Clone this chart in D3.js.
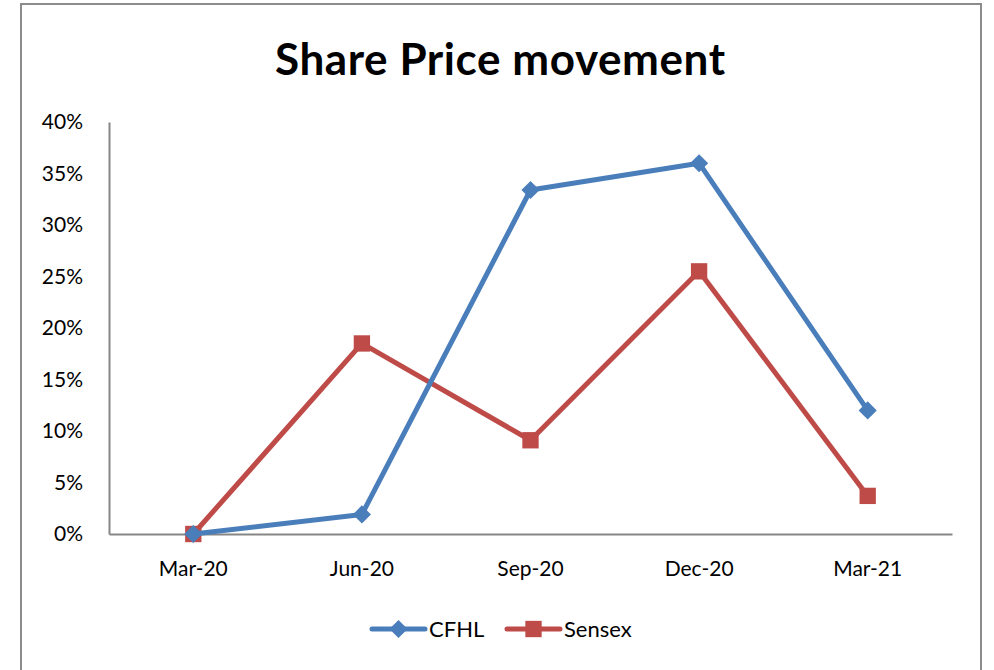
<!DOCTYPE html>
<html>
<head>
<style>
  body { margin: 0; background: #fff; }
  text { font-family: Lato, "Open Sans", sans-serif; }
</style>
</head>
<body>
<svg id="chart" width="994" height="670"></svg>
<script src="https://d3js.org/d3.v7.min.js"></script>
<script>
var categories = ["Mar-20", "Jun-20", "Sep-20", "Dec-20", "Mar-21"];
var cfhl = [0, 0.019, 0.334, 0.360, 0.120];
var sensex = [0, 0.185, 0.091, 0.255, 0.037];
var yTicks = [0, 0.05, 0.10, 0.15, 0.20, 0.25, 0.30, 0.35, 0.40];

var blue = "#4a7ebb", red = "#be4b48", axisCol = "#868686";

var svg = d3.select("#chart");

// outer frame
svg.append("rect")
    .attr("x", 21).attr("y", 4)
    .attr("width", 960).attr("height", 680)
    .attr("fill", "none")
    .attr("stroke", "#8c8c8c")
    .attr("stroke-width", 2);

svg.append("text")
    .attr("x", 500).attr("y", 75)
    .attr("text-anchor", "middle")
    .attr("font-size", 44)
    .attr("font-weight", "bold")
    .attr("textLength", 450)
    .text("Share Price movement");

var margin = {left: 109, right: 952, top: 122, bottom: 534};

var x = d3.scaleBand()
    .domain(categories)
    .range([margin.left, margin.right]);

var y = d3.scaleLinear()
    .domain([0, 0.4])
    .range([margin.bottom, margin.top]);

// y axis
var yAxis = svg.append("g")
    .attr("transform", "translate(" + margin.left + ",0)")
    .call(d3.axisLeft(y).tickValues(yTicks).tickSize(0).tickPadding(26)
        .tickFormat(d3.format(".0%")));
yAxis.select(".domain").attr("stroke", axisCol).attr("stroke-width", 2);
yAxis.selectAll("text").attr("font-size", 21).attr("fill", "#000");

// x axis
var xAxis = svg.append("g")
    .attr("transform", "translate(0," + margin.bottom + ")")
    .call(d3.axisBottom(x).tickSize(0).tickPadding(27));
xAxis.select(".domain").attr("stroke", axisCol).attr("stroke-width", 2);
xAxis.selectAll("text").attr("font-size", 21).attr("fill", "#000");

var line = d3.line()
    .x(function (d, i) { return x(categories[i]) + x.bandwidth() / 2; })
    .y(function (d) { return y(d); });

function drawSeries(data, color, shape) {
  svg.append("path")
      .datum(data)
      .attr("fill", "none")
      .attr("stroke", color)
      .attr("stroke-width", 5)
      .attr("stroke-linejoin", "round")
      .attr("d", line);
  svg.selectAll(null)
      .data(data)
      .enter().append("path")
      .attr("transform", function (d, i) {
        return "translate(" + (x(categories[i]) + x.bandwidth() / 2) + "," + y(d) + ")";
      })
      .attr("fill", color)
      .attr("d", shape);
}

var diamond = d3.symbol().type(d3.symbolDiamond2).size(210);
var square = d3.symbol().type(d3.symbolSquare2).size(340);

drawSeries(sensex, red, square);
drawSeries(cfhl, blue, diamond);

// legend
var legend = [
  {name: "CFHL", color: blue, shape: diamond, x: 370},
  {name: "Sensex", color: red, shape: square, x: 505}
];
var lg = svg.append("g").selectAll("g")
    .data(legend)
    .enter().append("g")
    .attr("transform", function (d) { return "translate(" + d.x + ",629)"; });
lg.append("line")
    .attr("x1", 2).attr("x2", 55)
    .attr("stroke", function (d) { return d.color; })
    .attr("stroke-width", 5)
    .attr("stroke-linecap", "round");
lg.append("path")
    .attr("transform", "translate(28.5,0)")
    .attr("fill", function (d) { return d.color; })
    .attr("d", function (d) { return d.shape(); });
lg.append("text")
    .attr("x", 59).attr("dy", "0.35em")
    .attr("font-size", 22)
    .text(function (d) { return d.name; });
</script>
</body>
</html>
